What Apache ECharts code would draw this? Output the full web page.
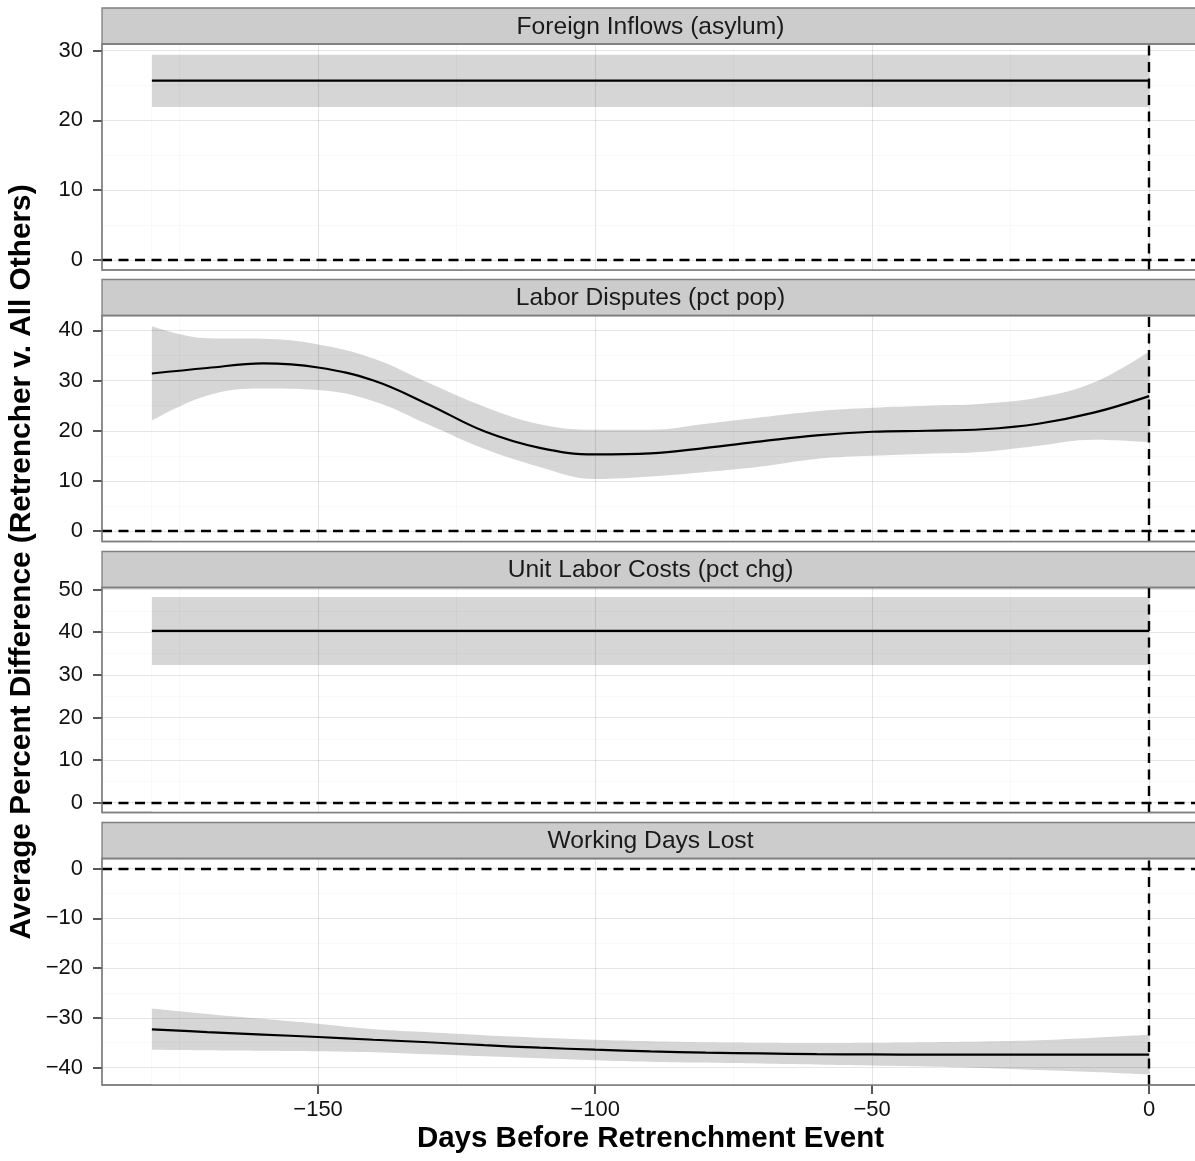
<!DOCTYPE html>
<html><head><meta charset="utf-8">
<script src="https://cdn.jsdelivr.net/npm/echarts@6/dist/echarts.min.js"></script>
<style>html,body{margin:0;padding:0;background:#fff}#c{width:1195px;height:1161px}</style>
</head><body><div id="c"></div>
<script>
// ---------- data ----------
const panelTitles = ['Foreign Inflows (asylum)', 'Labor Disputes (pct pop)', 'Unit Labor Costs (pct chg)', 'Working Days Lost'];

const flatDays = [-180, 0];
const days = [-180, -170, -160, -150, -140, -130, -120, -110, -100, -90, -80, -70, -60, -50, -40, -30, -20, -10, 0];

// Foreign Inflows (asylum)
const asylumFit   = [25.7, 25.7];
const asylumLower = [21.9, 21.9];
const asylumUpper = [29.4, 29.4];

// Labor Disputes (pct pop)
const disputesFit   = [31.4, 32.5, 33.4, 32.6, 30.0, 25.2, 19.9, 16.6, 15.3, 15.5, 16.6, 17.9, 19.1, 19.8, 20.0, 20.3, 21.4, 23.6, 26.9];
const disputesLower = [22.0, 27.0, 28.4, 28.1, 25.9, 21.2, 16.4, 12.8, 10.4, 10.9, 11.8, 12.9, 14.4, 15.0, 15.4, 15.8, 17.0, 18.2, 17.7];
const disputesUpper = [40.8, 38.4, 38.3, 37.2, 34.4, 29.5, 24.8, 21.3, 20.2, 20.2, 21.4, 22.7, 23.9, 24.6, 25.0, 25.4, 26.6, 29.6, 35.8];

// Unit Labor Costs (pct chg)
const ulcFit   = [40.3, 40.3];
const ulcLower = [32.3, 32.3];
const ulcUpper = [48.3, 48.3];

// Working Days Lost
const wdlFit   = [-32.3, -32.85, -33.35, -33.85, -34.4, -34.9, -35.5, -36.0, -36.4, -36.75, -37.0, -37.15, -37.3, -37.35, -37.4, -37.4, -37.4, -37.4, -37.4];
const wdlLower = [-36.4, -36.5, -36.6, -36.7, -36.9, -37.3, -37.7, -38.1, -38.5, -38.8, -39.0, -39.2, -39.4, -39.6, -39.8, -40.1, -40.5, -40.9, -41.4];
const wdlUpper = [-28.1, -29.2, -30.2, -31.2, -32.3, -32.9, -33.5, -34.0, -34.4, -34.7, -34.9, -35.0, -35.05, -35.0, -34.9, -34.75, -34.5, -34.0, -33.4];

// axes
const xRange = [-189, 9];
const xMajor = [-150, -100, -50, 0];
const xMinor = [-175, -125, -75, -25];
const yRanges = [[-1.47, 30.95], [-2.05, 42.95], [-2.3, 50.5], [-43.5, 2.05]];
const yMajor = [[0, 10, 20, 30], [0, 10, 20, 30, 40], [0, 10, 20, 30, 40, 50], [-40, -30, -20, -10, 0]];
const yMinor = [[5, 15, 25], [5, 15, 25, 35], [5, 15, 25, 35, 45], [-35, -25, -15, -5]];

const xTitle = 'Days Before Retrenchment Event';
const yTitle = 'Average Percent Difference (Retrencher v. All Others)';

// ---------- layout ----------
const LEFT = 102, WIDTH = 1097, STRIP = 36;
const tops = [44, 315.5, 587.5, 858.5];
const heights = [226, 226, 225, 226.5];

const panels = [
  { x: flatDays, fit: asylumFit, lo: asylumLower, hi: asylumUpper },
  { x: days, fit: disputesFit, lo: disputesLower, hi: disputesUpper },
  { x: flatDays, fit: ulcFit, lo: ulcLower, hi: ulcUpper },
  { x: days, fit: wdlFit, lo: wdlLower, hi: wdlUpper }
];

const FONT = '"Liberation Sans", Arial, Helvetica, sans-serif';
const fmt = v => (v < 0 ? '\u2212' + Math.abs(v) : String(v));
const SMOOTH = 0.4;

const grids = [], xAxes = [], yAxes = [], series = [], graphics = [];

panels.forEach((p, i) => {
  grids.push({ left: LEFT, top: tops[i], width: WIDTH, height: heights[i], show: true,
    backgroundColor: '#ffffff', borderColor: '#7f7f7f', borderWidth: 1.3, containLabel: false, outerBoundsMode: 'none' });
  const last = i === panels.length - 1;
  xAxes.push({ type: 'value', gridIndex: i, min: xRange[0], max: xRange[1],
    splitLine: { show: false }, axisLine: { show: false, onZero: false },
    axisTick: { show: last, length: 9, customValues: xMajor, lineStyle: { color: '#222', width: 1.5 } },
    axisLabel: { show: last, customValues: xMajor, formatter: fmt, fontSize: 22, color: '#111', margin: 14, fontFamily: FONT } });
  yAxes.push({ type: 'value', gridIndex: i, min: yRanges[i][0], max: yRanges[i][1],
    splitLine: { show: false }, axisLine: { show: false, onZero: false },
    axisTick: { show: true, length: 9, customValues: yMajor[i], lineStyle: { color: '#222', width: 1.5 } },
    axisLabel: { show: true, customValues: yMajor[i], formatter: fmt, fontSize: 22, color: '#111', margin: 19, fontFamily: FONT } });

  // ribbon: grey area under the upper bound, white area under the lower bound
  series.push({ type: 'line', xAxisIndex: i, yAxisIndex: i, z: 2,
    data: p.x.map((d, k) => [d, p.hi[k]]), symbol: 'none', smooth: SMOOTH, silent: true,
    lineStyle: { width: 0, opacity: 0 }, areaStyle: { color: '#d6d6d6', opacity: 1, origin: 'start' }, animation: false });
  series.push({ type: 'line', xAxisIndex: i, yAxisIndex: i, z: 3,
    data: p.x.map((d, k) => [d, p.lo[k]]), symbol: 'none', smooth: SMOOTH, silent: true,
    lineStyle: { width: 0, opacity: 0 }, areaStyle: { color: '#ffffff', opacity: 1, origin: 'start' }, animation: false });

  // grid lines (translucent so they show through the ribbon), drawn above the ribbon
  const gl = (arr, key, color) => arr.map(v => ({ [key]: v, lineStyle: { color: color, width: 1.1, type: 'solid' } }));
  series.push({ type: 'line', xAxisIndex: i, yAxisIndex: i, data: [], silent: true,
    markLine: { silent: true, symbol: 'none', z: 4, animation: false, label: { show: false },
      data: [].concat(gl(xMinor, 'xAxis', 'rgba(0,0,0,0.025)'), gl(yMinor[i], 'yAxis', 'rgba(0,0,0,0.025)'),
                      gl(xMajor, 'xAxis', 'rgba(0,0,0,0.10)'), gl(yMajor[i], 'yAxis', 'rgba(0,0,0,0.10)')) } });

  // fit line + reference lines
  series.push({ type: 'line', xAxisIndex: i, yAxisIndex: i, z: 5,
    data: p.x.map((d, k) => [d, p.fit[k]]), symbol: 'none', smooth: SMOOTH, silent: true,
    lineStyle: { color: '#000', width: 2.2 }, animation: false,
    markLine: { silent: true, symbol: 'none', z: 10, animation: false, label: { show: false },
      lineStyle: { color: '#000', width: 2.4, type: [10, 6.5] },
      data: [{ yAxis: 0 }, { xAxis: 0 }] } });

  // panel border drawn on top
  graphics.push({ type: 'rect', shape: { x: LEFT, y: tops[i], width: WIDTH, height: heights[i] },
    style: { fill: null, stroke: '#7f7f7f', lineWidth: 1.3 }, z: 20, silent: true });
  // strip
  graphics.push({ type: 'rect', shape: { x: LEFT, y: tops[i] - STRIP, width: WIDTH, height: STRIP },
    style: { fill: '#cccccc', stroke: '#7f7f7f', lineWidth: 1.3 }, z: 10 });
  graphics.push({ type: 'text', x: LEFT + WIDTH / 2, y: tops[i] - STRIP / 2 + 1, z: 11,
    style: { text: panelTitles[i], fontSize: 24.6, fontFamily: FONT, fill: '#1a1a1a',
      align: 'center', verticalAlign: 'middle', textAlign: 'center', textVerticalAlign: 'middle' } });
});

graphics.push({ type: 'text', x: 22, y: 562, rotation: Math.PI / 2, z: 11,
  style: { text: yTitle, fontSize: 29.8, fontWeight: 'bold', fontFamily: FONT, fill: '#000',
    align: 'center', verticalAlign: 'middle', textAlign: 'center', textVerticalAlign: 'middle' } });
graphics.push({ type: 'text', x: LEFT + WIDTH / 2, y: 1139, z: 11,
  style: { text: xTitle, fontSize: 29.5, fontWeight: 'bold', fontFamily: FONT, fill: '#000',
    align: 'center', verticalAlign: 'middle', textAlign: 'center', textVerticalAlign: 'middle' } });

const chart = echarts.init(document.getElementById('c'), null, { renderer: 'canvas' });
chart.setOption({
  animation: false,
  backgroundColor: '#ffffff',
  grid: grids, xAxis: xAxes, yAxis: yAxes, series: series, graphic: graphics
});
</script></body></html>
